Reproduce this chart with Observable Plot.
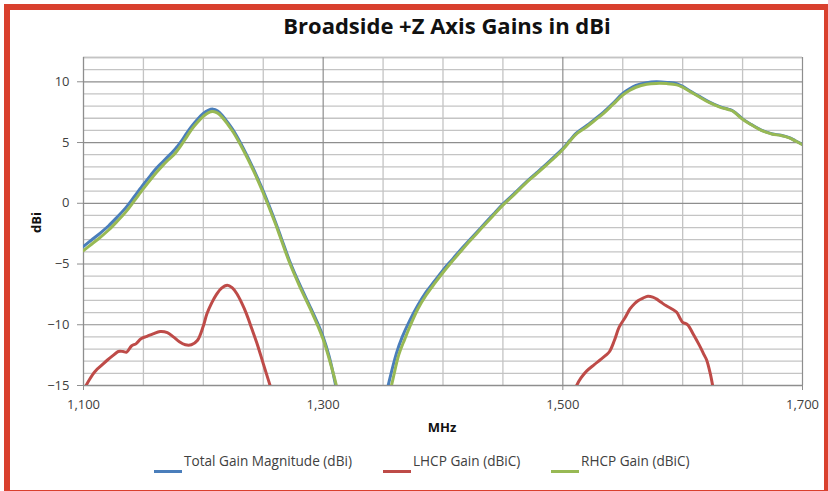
<!DOCTYPE html>
<html>
<head>
<meta charset="utf-8">
<script src="https://cdn.jsdelivr.net/npm/d3@7"></script>
<script src="https://cdn.jsdelivr.net/npm/@observablehq/plot@0.6"></script>
<style>
  html, body { margin: 0; padding: 0; background: #fff; overflow: hidden; }
  body { width: 828px; height: 491px; position: relative; font-family: "Open Sans", sans-serif; }
  #frame { position: absolute; left: 4px; top: 4px; width: 826px; height: 492px; box-sizing: border-box; border: 6px solid #d9402e; }
  #chart { position: absolute; left: 0; top: 0; }
  .lbl { position: absolute; white-space: nowrap; line-height: 1; }
  #title { left: 0; width: 894px; text-align: center; top: 14px; font-size: 22px; font-weight: 700; color: #111; }
  #xlab { left: 342px; width: 200px; text-align: center; top: 421px; font-size: 13px; font-weight: 700; color: #111; }
  #ylab { left: 6px; width: 60px; text-align: center; top: 215.5px; font-size: 13px; font-weight: 700; color: #111; transform: rotate(-90deg); }
  .sw { position: absolute; height: 3px; width: 28px; }
  .lt { position: absolute; font-size: 13.6px; color: #404040; line-height: 1; white-space: nowrap; }
</style>
</head>
<body>
<div id="frame"></div>
<div id="chart"></div>
<div id="title" class="lbl">Broadside +Z Axis Gains in dBi</div>
<div id="xlab" class="lbl">MHz</div>
<div id="ylab" class="lbl">dBi</div>
<div id="legend"></div>
<script>
// ---- data ----
const seriesNames = ["Total Gain Magnitude (dBi)", "LHCP Gain (dBiC)", "RHCP Gain (dBiC)"];
const seriesColors = ["#4a7ebb", "#be4b48", "#98b954"];

const xTicks = [1100, 1300, 1500, 1700];
const yTicks = [-15, -10, -5, 0, 5, 10];

// Total gain, low band
const totalLowMHz = [1100,1107,1114,1121,1128,1135,1142,1150,1156,1161,1166,1170,1175,1178,1182,1186,1190,1195,1200,1204,1208,1212,1216,1220,1225,1233,1242,1250,1260,1265,1272,1280,1290,1296,1300,1305,1310,1313];
const totalLowDB  = [-3.55,-3.0,-2.45,-1.85,-1.15,-0.4,0.5,1.55,2.3,2.9,3.4,3.8,4.3,4.65,5.15,5.75,6.3,6.9,7.4,7.65,7.75,7.6,7.2,6.7,6.0,4.6,2.8,1.0,-1.5,-2.85,-4.75,-6.6,-8.7,-10.0,-11.0,-12.6,-14.8,-16.5];
// Total gain, high band
const totalHighMHz = [1350,1354,1361,1366,1372,1379,1386,1393,1400,1407,1414,1421,1428,1435,1442,1450,1460,1470,1478,1486,1493,1500,1506,1511,1520,1527,1534,1542,1550,1556,1561,1570,1578,1587,1595,1600,1607,1614,1622,1631,1638,1642,1650,1657,1664,1670,1675,1682,1689,1694,1700];
const totalHighDB  = [-16.8,-15.1,-12.4,-11.0,-9.7,-8.4,-7.3,-6.4,-5.5,-4.7,-3.9,-3.15,-2.4,-1.65,-0.9,-0.06,0.85,1.8,2.5,3.2,3.85,4.5,5.2,5.75,6.4,6.95,7.5,8.25,9.05,9.45,9.7,9.93,10.0,9.95,9.85,9.62,9.2,8.8,8.35,7.95,7.75,7.6,6.95,6.5,6.1,5.85,5.7,5.6,5.4,5.15,4.85];

// LHCP gain, two lobes
const lhcpLowMHz = [1100,1105,1110,1115,1120,1125,1129,1133,1136,1140,1144,1148,1153,1158,1164,1170,1175,1180,1185,1190,1195,1200,1203,1207,1211,1215,1220,1224,1228,1232,1236,1240,1245,1250,1256,1258];
const lhcpLowDB  = [-15.4,-14.5,-13.8,-13.35,-12.9,-12.5,-12.2,-12.2,-12.25,-11.75,-11.55,-11.15,-10.95,-10.75,-10.55,-10.65,-11.0,-11.4,-11.65,-11.65,-11.3,-10.1,-9.1,-8.2,-7.5,-7.0,-6.75,-6.95,-7.45,-8.2,-9.1,-10.2,-11.6,-13.2,-15.1,-15.8];
const lhcpHighMHz = [1508,1511,1515,1520,1526,1531,1536,1539,1543,1547,1552,1556,1560,1563,1567,1571,1575,1578,1582,1586,1591,1595,1598,1600,1604,1609,1614,1618,1620,1623,1625,1626];
const lhcpHighDB  = [-15.8,-15.1,-14.4,-13.8,-13.3,-12.9,-12.5,-12.2,-11.3,-10.2,-9.4,-8.7,-8.25,-8.0,-7.8,-7.65,-7.72,-7.87,-8.15,-8.42,-8.7,-8.97,-9.5,-9.8,-9.98,-10.8,-11.7,-12.5,-12.9,-14.0,-15.0,-15.6];

// RHCP gain, two lobes
const rhcpLowMHz = [1100,1107,1114,1121,1128,1135,1142,1150,1156,1161,1166,1170,1175,1178,1182,1186,1190,1195,1200,1204,1208,1212,1216,1220,1225,1233,1242,1250,1260,1265,1272,1280,1290,1296,1300,1305,1311,1314];
const rhcpLowDB  = [-3.9,-3.35,-2.8,-2.2,-1.5,-0.75,0.15,1.2,1.95,2.55,3.1,3.5,3.95,4.3,4.85,5.45,6.05,6.65,7.15,7.45,7.55,7.42,7.05,6.55,5.85,4.45,2.65,0.85,-1.65,-3.0,-4.9,-6.75,-8.85,-10.2,-11.2,-12.8,-15.0,-16.5];
const rhcpHighMHz = [1352,1357,1363,1368,1373,1379,1386,1393,1400,1407,1414,1421,1428,1435,1442,1450,1460,1470,1478,1486,1493,1500,1506,1511,1520,1527,1534,1542,1550,1556,1561,1570,1578,1587,1595,1600,1607,1614,1622,1631,1638,1642,1650,1657,1664,1670,1675,1682,1689,1694,1700];
const rhcpHighDB  = [-16.8,-15.0,-12.5,-11.2,-10.0,-8.7,-7.55,-6.6,-5.7,-4.85,-4.05,-3.25,-2.5,-1.75,-1.0,-0.15,0.78,1.75,2.42,3.12,3.75,4.42,5.12,5.68,6.3,6.85,7.4,8.15,8.9,9.3,9.55,9.8,9.87,9.85,9.75,9.55,9.15,8.75,8.3,7.92,7.72,7.57,6.92,6.48,6.08,5.83,5.68,5.58,5.38,5.13,4.83];

// ---- build tables ----
function seg(series, part, xs, ys) { return xs.map((x, i) => ({series, part, x, y: ys[i]})); }
const data = [
  ...seg(seriesNames[0], 0, totalLowMHz, totalLowDB),
  ...seg(seriesNames[0], 1, totalHighMHz, totalHighDB),
  ...seg(seriesNames[1], 0, lhcpLowMHz, lhcpLowDB),
  ...seg(seriesNames[1], 1, lhcpHighMHz, lhcpHighDB),
  ...seg(seriesNames[2], 0, rhcpLowMHz, rhcpLowDB),
  ...seg(seriesNames[2], 1, rhcpHighMHz, rhcpHighDB)
];

const minorY = d3.range(-15, 13, 1).filter(v => v % 5 !== 0);
const majorY = d3.range(-10, 13, 5);
const minorX = d3.range(1150, 1700, 50).filter(v => v % 200 !== 100);
const majorX = [1300, 1500, 1700];

const lineMarks = seriesNames.map((name, i) =>
  Plot.line(data.filter(d => d.series === name), {
    x: "x", y: "y", z: "part", stroke: seriesColors[i], strokeWidth: 3,
    curve: "catmull-rom", clip: true, strokeLinejoin: "round", strokeLinecap: "round"
  })
);

const chart = Plot.plot({
  width: 828,
  height: 440,
  marginLeft: 83,
  marginRight: 26,
  marginTop: 57,
  marginBottom: 55,
  style: { fontFamily: "Open Sans", fontSize: "13px", color: "#404040", background: "transparent" },
  x: { domain: [1100, 1700] },
  y: { domain: [-15, 12] },
  marks: [
    Plot.ruleY(minorY, { stroke: "#c4c4c4", strokeWidth: 1.3 }),
    Plot.ruleY([12], { stroke: "#c4c4c4", strokeWidth: 1.3 }),
    Plot.ruleX(minorX, { stroke: "#c4c4c4", strokeWidth: 1.3 }),
    Plot.ruleY(majorY, { stroke: "#8e8e8e", strokeWidth: 1.2 }),
    Plot.ruleX(majorX, { stroke: "#8e8e8e", strokeWidth: 1.2 }),
    Plot.ruleY([-15], { stroke: "#8e8e8e", strokeWidth: 1.3 }),
    Plot.ruleX([1100], { stroke: "#8e8e8e", strokeWidth: 1.3 }),
    Plot.axisY({ ticks: yTicks, tickSize: 6, tickPadding: 8, label: null, stroke: "#8e8e8e", fill: "#404040" }),
    Plot.axisX({ ticks: xTicks, tickFormat: d3.format(","), tickSize: 5, tickPadding: 9, label: null, stroke: "#8e8e8e", fill: "#404040" }),
    ...lineMarks
  ]
});
document.getElementById("chart").appendChild(chart);

// ---- legend ----
const legend = document.getElementById("legend");
const swatchLeft = [154, 383, 551];
seriesNames.forEach((name, i) => {
  const sw = document.createElement("div");
  sw.className = "sw";
  sw.style.left = swatchLeft[i] + "px";
  sw.style.top = "470px";
  sw.style.background = seriesColors[i];
  legend.appendChild(sw);
  const t = document.createElement("div");
  t.className = "lt";
  t.style.left = (swatchLeft[i] + 30) + "px";
  t.style.top = "454px";
  t.textContent = name;
  legend.appendChild(t);
});
</script>
</body>
</html>
